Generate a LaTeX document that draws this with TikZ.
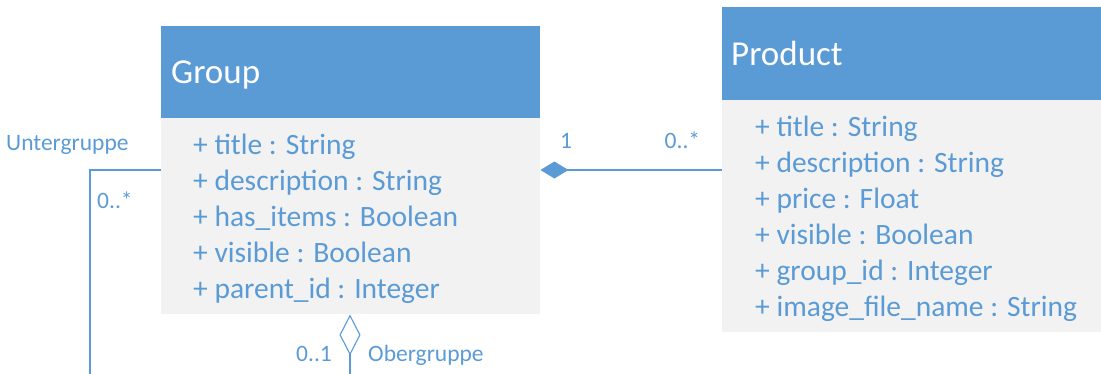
\documentclass[tikz,border=0pt]{standalone}
\usepackage{fontspec}
\setmainfont{Carlito}
\usetikzlibrary{arrows.meta,calc}
\definecolor{umlblue}{HTML}{5B9BD5}
\definecolor{umlbody}{HTML}{F2F2F2}
\tikzset{
  classhead/.style={rectangle, fill=umlblue, draw=none, inner sep=0pt, anchor=north west},
  classbody/.style={rectangle, fill=umlbody, draw=none, inner sep=0pt, anchor=north west},
  classtitle/.style={text=white, font=\fontsize{35}{42}\selectfont, inner sep=0pt, anchor=base west},
  attr/.style={text=umlblue, font=\fontsize{29.5}{36}\selectfont, inner sep=0pt, anchor=base west},
  role/.style={text=umlblue, font=\fontsize{23.5}{28}\selectfont, inner sep=0pt, anchor=base west},
  link/.style={draw=umlblue, line width=1.3pt},
}
\begin{document}
\begin{tikzpicture}[x=1pt,y=-1pt]
\useasboundingbox (0,0) rectangle (1101,374);

% class Group
\node[classhead, minimum width=379pt, minimum height=92pt] (ghead) at (161,26) {};
\node[classbody, minimum width=379pt, minimum height=196pt] (gbody) at (161,118) {};
\node[classtitle] (gtitle) at (171,83.7) {Group};
\foreach \t [count=\i from 0] in {+ title : String, + description : String, + has\_items : Boolean, + visible : Boolean, + parent\_id : Integer}
  \node[attr] (g\i) at (193,154.7+36*\i) {\t};

% class Product
\node[classhead, minimum width=379pt, minimum height=93pt] (phead) at (722,7) {};
\node[classbody, minimum width=379pt, minimum height=232pt] (pbody) at (722,100) {};
\node[classtitle] (ptitle) at (731,66) {Product};
\foreach \t [count=\i from 0] in {+ title : String, + description : String, + price : Float, + visible : Boolean, + group\_id : Integer, + image\_file\_name : String}
  \node[attr] (p\i) at (755,136.5+36*\i) {\t};

% composition Group 1 -- 0..* Product
\coordinate (gright) at ($(gbody.north east)+(0,52)$);
\draw[link, {Diamond[length=28pt,width=17pt,fill=umlblue]}-] (gright) -- (gright -| pbody.west);
\node[role] (mone) at (560,149) {1};
\node[role] (mmany) at (664.5,149) {0..*};

% self association Untergruppe / Obergruppe
\coordinate (gleft) at ($(gbody.north west)+(0,52)$);
\coordinate (loopcorner) at (90,170);
\coordinate (loopend) at (90,374);
\draw[link] (gleft) -- (loopcorner) -- (loopend);
\node[role] (untergr) at (6,150.5) {Untergruppe};
\node[role] (umany) at (97,208.5) {0..*};

\coordinate (gbottom) at ($(gbody.south west)+(189,0)$);
\coordinate (aggend) at (gbottom |- loopend);
\draw[link, {Diamond[open,length=41pt,width=21pt,fill=white,line width=1.1pt]}-] (gbottom) -- (aggend);
\node[role] (oone) at (296,361) {0..1};
\node[role] (obergr) at (368,361) {Obergruppe};
\end{tikzpicture}
\end{document}
